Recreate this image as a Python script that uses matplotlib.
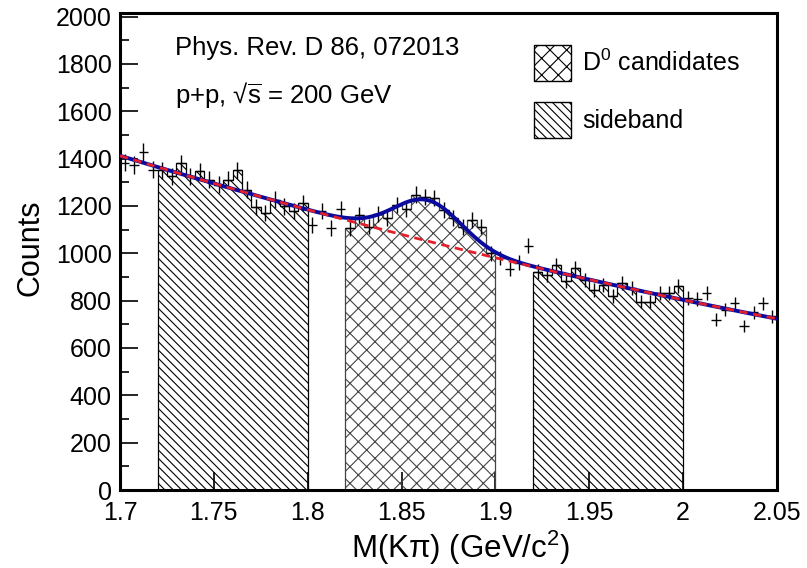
import numpy as np
import matplotlib
matplotlib.use("Agg")
import matplotlib.pyplot as plt
from matplotlib.patches import Patch

# ── Data: M(Kpi) histogram, 5 MeV bins from 1.70 to 2.05 ─────────
bin_lo, bin_hi, bin_w = 1.70, 2.05, 0.005
counts = [
    1383, 1374, 1426, 1353, 1350, 1325, 1380, 1325, 1346, 1311,
    1290, 1311, 1350, 1268, 1195, 1170, 1226, 1198, 1177, 1212,
    1120, 1177, 1106, 1187, 1106, 1163, 1113, 1165, 1149, 1205,
    1187, 1247, 1237, 1233, 1184, 1149, 1111, 1142, 1113, 1001,
    980, 933, 961, 1032, 923, 909, 951, 881, 937, 888,
    846, 867, 820, 874, 853, 796, 796, 832, 832, 860,
    811, 806, 832, 719, 761, 789, 693, 750, 789, 733,
]

# mass windows drawn as hatched histograms
sideband_lo = (1.72, 1.80)
signal_win = (1.82, 1.90)
sideband_hi = (1.92, 2.00)

# fit: quadratic background in t = (m - 1.7)/0.1, plus gaussian
bkg_p0, bkg_p1, bkg_p2 = 1412.0, -240.5, 12.5
gaus_amp, gaus_mean, gaus_sigma = 173.0, 1.864, 0.018

# ── Style ─────────────────────────────────────────────────────────
plt.rcParams.update({
    "font.family": "Liberation Sans",
    "mathtext.fontset": "custom",
    "mathtext.rm": "Liberation Sans",
    "mathtext.it": "Liberation Sans",
    "hatch.linewidth": 0.8,
})
FS = 18
SIDE_HATCH = "\\\\\\\\"
SIG_HATCH = "xx"

edges = np.round(np.arange(bin_lo, bin_hi + bin_w / 2, bin_w), 4)
centers = edges[:-1] + bin_w / 2
counts = np.array(counts, dtype=float)

fig = plt.figure(figsize=(8.07, 5.68), dpi=100)
ax = fig.add_axes([120 / 807, 1 - 490 / 568, 657 / 807, 477 / 568])

def window(lo, hi):
    m = (edges[:-1] >= lo - 1e-6) & (edges[1:] <= hi + 1e-6)
    idx = np.where(m)[0]
    return counts[idx], edges[idx[0]: idx[-1] + 2]

for (lo, hi), hatch, col in [(sideband_lo, SIDE_HATCH, "black"),
                             (signal_win, SIG_HATCH, "#444444"),
                             (sideband_hi, SIDE_HATCH, "black")]:
    v, e = window(lo, hi)
    ax.stairs(v, e, baseline=0, fill=True, facecolor="none",
              edgecolor=col, hatch=hatch, linewidth=0.9, zorder=2)

ax.errorbar(centers, counts, xerr=bin_w / 2, yerr=np.sqrt(counts),
            fmt="none", ecolor="black", elinewidth=1.0, capsize=0, zorder=3)

m = np.linspace(bin_lo, bin_hi, 400)
t = (m - 1.7) / 0.1
bkg = bkg_p0 + bkg_p1 * t + bkg_p2 * t ** 2
total = bkg + gaus_amp * np.exp(-0.5 * ((m - gaus_mean) / gaus_sigma) ** 2)
ax.plot(m, total, color="#0a0a9e", lw=2.8, zorder=4)
ax.plot(m, bkg, color="#e3202a", lw=2.0, ls=(0, (3, 2)), zorder=5)

ax.set_xlim(bin_lo, bin_hi)
ax.set_ylim(0, 2015)
ax.set_xticks(np.arange(1.70, 2.051, 0.05))
ax.set_xticklabels(["1.7", "1.75", "1.8", "1.85", "1.9", "1.95", "2", "2.05"])
ax.set_yticks(np.arange(0, 2001, 200))
ax.set_yticks(np.arange(0, 2001, 100), minor=True)
ax.tick_params(axis="both", which="major", direction="in", length=13,
               width=1.2, labelsize=FS)
ax.tick_params(axis="y", which="minor", direction="in", length=6.5, width=1.2)
ax.tick_params(axis="x", pad=8)
ax.tick_params(axis="y", pad=6)
for s in ax.spines.values():
    s.set_linewidth(2.2)

fig.text(30 / 807, 1 - 248 / 568, "Counts", rotation=90,
         ha="center", va="center", fontsize=22)
fig.text(460 / 807, 1 - 548 / 568, "M(Kπ) (GeV/c$^2$)",
         ha="center", va="center", fontsize=22.5)

fig.text(175 / 807, 1 - 55 / 568, "Phys. Rev. D 86, 072013",
         fontsize=18.5, va="baseline")
fig.text(175 / 807, 1 - 103 / 568, r"p+p, √$\overline{\mathrm{s}}$ = 200 GeV",
         fontsize=18.5, va="baseline")

handles = [
    Patch(facecolor="none", edgecolor="black", hatch="xx", lw=1.0,
          label="D$^0$ candidates"),
    Patch(facecolor="none", edgecolor="black", hatch=SIDE_HATCH, lw=1.0,
          label="sideband"),
]
fig.legend(handles=handles, loc="upper left",
           bbox_to_anchor=(521 / 807, 1 - 32 / 568), frameon=False,
           fontsize=FS, borderpad=0, handlelength=1.5, handleheight=1.85,
           handletextpad=0.45, labelspacing=0.85)

fig.savefig("out.png", dpi=100)
